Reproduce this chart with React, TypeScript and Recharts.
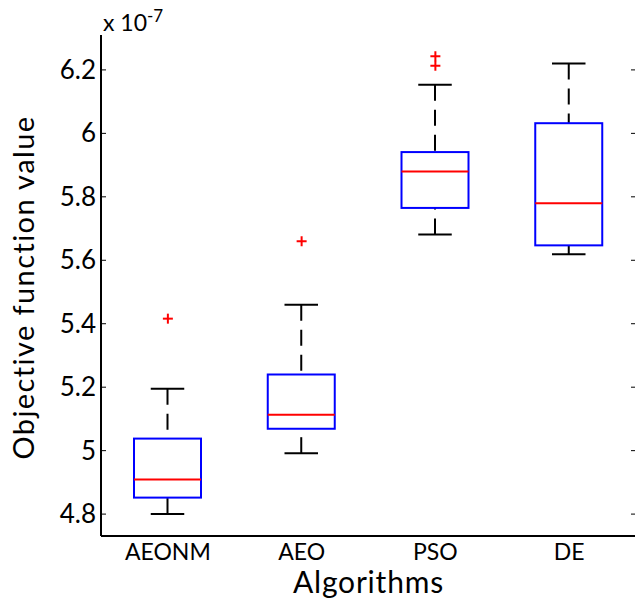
// @ts-nocheck
import React from "react"
import { ComposedChart, Bar, Scatter, XAxis, YAxis } from "recharts"

// values are in units of 1e-7 (as on the axis)
const algorithms = ["AEONM", "AEO", "PSO", "DE"]
const lowerWhisker = [4.8, 4.992, 5.681, 5.619]
const q1 = [4.852, 5.069, 5.765, 5.647]
const median = [4.909, 5.113, 5.88, 5.78]
const q3 = [5.038, 5.24, 5.941, 6.032]
const upperWhisker = [5.195, 5.46, 6.153, 6.22]

// outliers (first and second) per algorithm, null where there is none
const outlierFirst = [5.416, 5.66, 6.243, null]
const outlierSecond = [null, null, 6.213, null]

const yTicks = [4.8, 5, 5.2, 5.4, 5.6, 5.8, 6, 6.2]

const FONT = "Lato, 'Open Sans', sans-serif"

const boxData = algorithms.map((name, i) => ({
    name,
    lo: lowerWhisker[i],
    q1: q1[i],
    med: median[i],
    q3: q3[i],
    hi: upperWhisker[i],
    range: [lowerWhisker[i], upperWhisker[i]],
    out1: outlierFirst[i],
    out2: outlierSecond[i]
}))

// box drawn from the bar that spans [lower whisker, upper whisker]
const BoxShape = (props: any) => {
    const { x, y, width, height, payload } = props
    const top = Math.min(y, y + height)
    const h = Math.abs(height)
    const span = payload.hi - payload.lo
    const py = (v: number) => top + ((payload.hi - v) / span) * h
    const cx = x + width / 2
    const capHalf = width / 4
    const yHi = py(payload.hi)
    const yLo = py(payload.lo)
    const yQ3 = py(payload.q3)
    const yQ1 = py(payload.q1)
    const yMed = py(payload.med)
    return (
        <g>
            <line x1={cx} x2={cx} y1={yHi} y2={yQ3} stroke="#000" strokeWidth={2} strokeDasharray="16 9" />
            <line x1={cx} x2={cx} y1={yLo} y2={yQ1} stroke="#000" strokeWidth={2} strokeDasharray="16 9" />
            <line x1={cx - capHalf} x2={cx + capHalf} y1={yHi} y2={yHi} stroke="#000" strokeWidth={2} />
            <line x1={cx - capHalf} x2={cx + capHalf} y1={yLo} y2={yLo} stroke="#000" strokeWidth={2} />
            <rect x={x} y={yQ3} width={width} height={yQ1 - yQ3} fill="none" stroke="#0000ff" strokeWidth={2} />
            <line x1={x} x2={x + width} y1={yMed} y2={yMed} stroke="#ff0000" strokeWidth={2} />
        </g>
    )
}

const PlusShape = (props: any) => {
    const { cx, cy, payload, field } = props
    if (!payload || payload[field] == null || !isFinite(cx) || !isFinite(cy)) return <g />
    return (
        <g stroke="#ff0000" strokeWidth={2}>
            <line x1={cx - 5} x2={cx + 5} y1={cy} y2={cy} />
            <line x1={cx} x2={cx} y1={cy - 5} y2={cy + 5} />
        </g>
    )
}

const LeftTick = (props: any) => {
    const { x, y, payload } = props
    return (
        <g>
            <line x1={x + 5} x2={x + 10} y1={y} y2={y} stroke="#000" strokeWidth={1} />
            <text x={x} y={y} dy={9} textAnchor="end" fontSize={26} fontFamily={FONT} fill="#000">
                {payload.value}
            </text>
        </g>
    )
}

const RightTick = (props: any) => {
    const { x, y } = props
    return <line x1={x - 5} x2={x} y1={y} y2={y} stroke="#000" strokeWidth={1} />
}

const BottomTick = (props: any) => {
    const { x, y, payload } = props
    return (
        <text x={x} y={y} dy={18} textAnchor="middle" fontSize={23} fontFamily={FONT} fill="#000">
            {payload.value}
        </text>
    )
}

export default function App() {
    return (
        <div style={{ position: "absolute", left: 0, top: 0, width: 635, height: 604, overflow: "hidden", background: "#fff" }}>
            <div style={{ position: "absolute", left: 103, top: 11, fontFamily: FONT, fontSize: 23, color: "#000", lineHeight: 1, whiteSpace: "nowrap" }}>
                x 10<span style={{ fontSize: 17, position: "relative", top: -9 }}>-7</span>
            </div>
            <ComposedChart
                width={640}
                height={604}
                data={boxData}
                margin={{ top: 35, right: 0, bottom: 0, left: 0 }}
            >
                <XAxis
                    dataKey="name"
                    type="category"
                    stroke="#000"
                    strokeWidth={2}
                    tickLine={false}
                    tickSize={0}
                    tickMargin={6}
                    height={68}
                    tick={<BottomTick />}
                    label={{ value: "Algorithms", position: "insideBottom", offset: 11, fontSize: 30, letterSpacing: 0.8, fontFamily: FONT, fill: "#000" }}
                />
                <XAxis
                    xAxisId="top"
                    dataKey="name"
                    orientation="top"
                    stroke="#000"
                    strokeWidth={2}
                    tick={false}
                    tickLine={false}
                    height={0}
                />
                <YAxis
                    type="number"
                    domain={[4.731, 6.31]}
                    ticks={yTicks}
                    allowDataOverflow
                    stroke="#000"
                    strokeWidth={2}
                    width={101}
                    tickLine={false}
                    tickSize={0}
                    tickMargin={5}
                    tick={<LeftTick />}
                    label={{ value: "Objective function value", angle: -90, position: "center", dx: -27, dy: 2, fontSize: 29, letterSpacing: 1.4, fontFamily: FONT, fill: "#000" }}
                />
                <YAxis
                    yAxisId="right"
                    orientation="right"
                    type="number"
                    domain={[4.731, 6.31]}
                    ticks={yTicks}
                    allowDataOverflow
                    stroke="#000"
                    strokeWidth={2}
                    width={4}
                    tickLine={false}
                    tickSize={0}
                    tickMargin={0}
                    tick={<RightTick />}
                />
                <Bar dataKey="range" barSize={67} shape={<BoxShape />} isAnimationActive={false} />
                <Scatter dataKey="out1" shape={<PlusShape field="out1" />} isAnimationActive={false} />
                <Scatter dataKey="out2" shape={<PlusShape field="out2" />} isAnimationActive={false} />
            </ComposedChart>
        </div>
    )
}
